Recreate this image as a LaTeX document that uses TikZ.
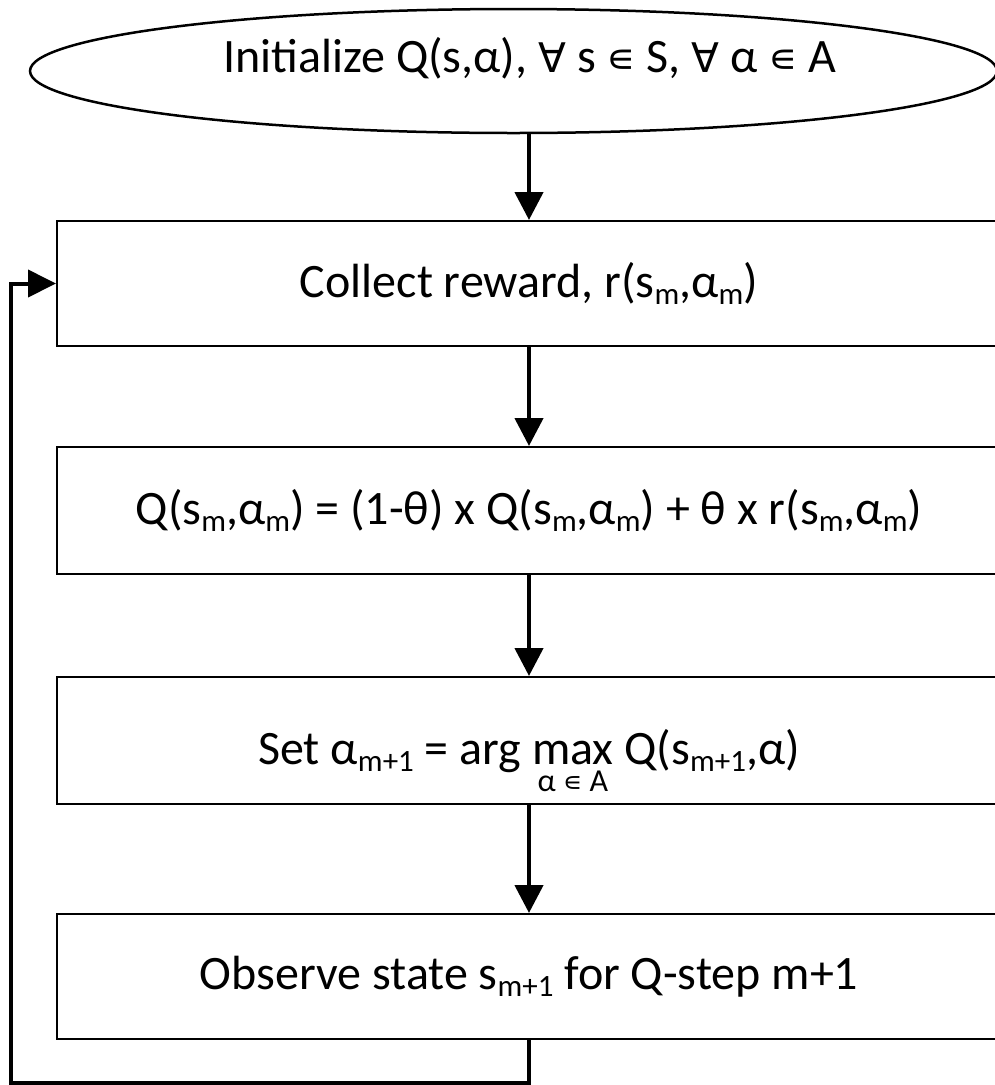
\documentclass[tikz,border=0pt]{standalone}
\usepackage{fontspec}
\setmainfont{Carlito}
\newfontfamily\symf{DejaVu Sans}[Scale=0.85]
\usetikzlibrary{shapes.geometric,arrows.meta}
\newcommand\sbs[1]{\raisebox{-0.16em}{\fontsize{31}{31}\selectfont #1}}
\newcommand\fa{{\symf ∀}}
\newcommand\el{{\symf ∊}}
\begin{document}
\begin{tikzpicture}[x=1pt,y=-1pt,font=\fontsize{48}{56}\selectfont,
  box/.style={draw,line width=2pt,minimum width=944pt,inner sep=0pt},
  ell/.style={ellipse,draw,line width=2.5pt,minimum width=967pt,minimum height=124pt,inner sep=0pt},
  arr/.style={line width=4.5pt,-{Triangle[width=28pt,length=28pt]}},
  loopline/.style={line width=4pt,line join=miter,-{Triangle[width=27pt,length=28pt]}}]
\useasboundingbox (0,0) rectangle (995,1085);
\clip (0,0) rectangle (995,1085);
\node[ell] (init) at (513.5,71) {};
\node[inner sep=0pt] (initT) at (530,58) {Initialize Q(s,α), \fa{} s \el{} S, \fa{} α \el{} A};
\node[box,minimum height=125pt] (b1) at (529,283.5) {Collect reward, r(s\sbs{m},α\sbs{m})};
\node[box,minimum height=127pt] (b2) at (529,510.5) {Q(s\sbs{m},α\sbs{m}) = (1-θ) x Q(s\sbs{m},α\sbs{m}) + θ x r(s\sbs{m},α\sbs{m})};
\node[box,minimum height=127pt] (b3) at (529,740.5) {};
\node[inner sep=0pt,anchor=base] (b3T) at (529,764) {Set α\sbs{m+1} = arg \smash{\begin{tabular}[t]{@{}c@{}}max\\[-0.6em]\fontsize{32}{32}\selectfont α \el{} A\end{tabular}} Q(s\sbs{m+1},α)};
\node[box,minimum height=125pt] (b4) at (529,976.5) {Observe state s\sbs{m+1} for Q-step m+1};
\coordinate (lb) at (11,1083);
\draw[arr] (b1.north |- init.south) -- (b1.north);
\draw[arr] (b1.south) -- (b2.north);
\draw[arr] (b2.south) -- (b3.north);
\draw[arr] (b3.south) -- (b4.north);
\draw[loopline] (b4.south) |- (lb) |- (b1.west);
\end{tikzpicture}
\end{document}
